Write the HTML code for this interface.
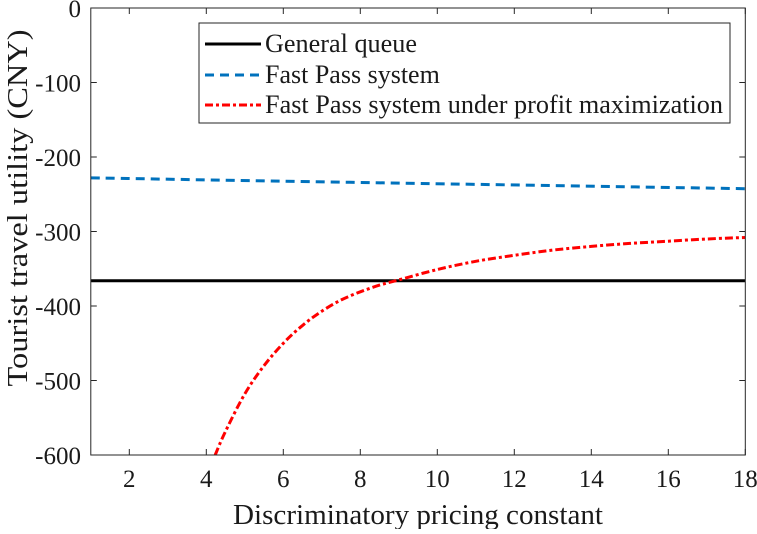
<!DOCTYPE html>
<html><head><meta charset="utf-8"><style>
body{margin:0;background:#fff;}
svg text{font-family:"Liberation Serif",serif;fill:#1a1a1a;}
</style></head><body>
<svg width="757" height="529" viewBox="0 0 757 529" xmlns="http://www.w3.org/2000/svg">
<g id="ticks"></g>
<g id="series"></g>
<rect x="90.8" y="8" width="654.5" height="447" fill="none" stroke="#262626" stroke-width="1"/>
<text x="418" y="524" font-size="28" text-anchor="middle" textLength="370" lengthAdjust="spacingAndGlyphs">Discriminatory pricing constant</text>
<text transform="translate(27,208) rotate(-90)" font-size="28" text-anchor="middle" textLength="357" lengthAdjust="spacingAndGlyphs">Tourist travel utility (CNY)</text>
<g>
<rect x="199" y="23" width="531" height="100" fill="#fff" stroke="#262626" stroke-width="1"/>
<line x1="205" y1="44" x2="261" y2="44" stroke="#000" stroke-width="3"/>
<text x="265" y="52" font-size="26" textLength="152" lengthAdjust="spacingAndGlyphs">General queue</text>
<line x1="205" y1="75" x2="261" y2="75" stroke="#0072BD" stroke-width="3" stroke-dasharray="9,6"/>
<text x="265" y="83" font-size="26">Fast Pass system</text>
<line x1="205" y1="105" x2="261" y2="105" stroke="#f00" stroke-width="3" stroke-dasharray="8,3,3,3"/>
<text x="265" y="113" font-size="26" textLength="458" lengthAdjust="spacingAndGlyphs">Fast Pass system under profit maximization</text>
</g>
</svg>
<script>
const xTicks=[2,4,6,8,10,12,14,16,18];
const yTicks=[0,-100,-200,-300,-400,-500,-600];
const generalX=[1,18];
const generalY=[-366,-366];
const fastX=[1,7.73,18];
const fastY=[-228,-234,-242.5];
const profitX=[4.23,4.5,5,5.5,6,6.5,7,7.5,8,8.5,9,10,11,12,13,14,15,16,17,18];
const profitY=[-600,-568,-518,-480,-450,-426,-407,-392,-381,-372,-365,-351,-340,-332,-325,-320,-316,-313,-310,-308];
const L=90.8,R=745.3,T=8,B=455;
const sx=v=>L+(v-1)/(18-1)*(R-L);
const sy=v=>T+(0-v)/600*(B-T);
const NS='http://www.w3.org/2000/svg';
const tg=document.getElementById('ticks'),sg=document.getElementById('series');
function mk(tag,attrs,parent){const e=document.createElementNS(NS,tag);for(const k in attrs)e.setAttribute(k,attrs[k]);parent.appendChild(e);return e;}
xTicks.forEach(v=>{
 const x=sx(v);
 const t1=mk('line',{x1:x,x2:x,y1:B,y2:B-6,stroke:'#262626'},tg);
 
 
 mk('line',{x1:x,x2:x,y1:T,y2:T+6,stroke:'#262626'},tg);
 const t=mk('text',{x:x,y:487,'font-size':25,'text-anchor':'middle'},tg);
 
 
 t.textContent=v;
});
yTicks.forEach(v=>{
 const y=sy(v);
 const t1=mk('line',{x1:L,x2:L+6,y1:y,y2:y,stroke:'#262626'},tg);
 
 
 mk('line',{x1:R,x2:R-6,y1:y,y2:y,stroke:'#262626'},tg);
 const t=mk('text',{x:81,y:y+9,'font-size':25,'text-anchor':'end'},tg);
 
 
 t.textContent=v;
});
function line(xs,ys,stroke,dash,name){
 const P=xs.map((x,i)=>[sx(x),sy(ys[i])]);
 let d='M'+P[0][0].toFixed(1)+','+P[0][1].toFixed(1);
 for(let i=0;i<P.length-1;i++){
  const p0=P[i-1]||P[i],p1=P[i],p2=P[i+1],p3=P[i+2]||P[i+1];
  const c1=[p1[0]+(p2[0]-p0[0])/6,p1[1]+(p2[1]-p0[1])/6];
  const c2=[p2[0]-(p3[0]-p1[0])/6,p2[1]-(p3[1]-p1[1])/6];
  d+=' C'+c1.map(v=>v.toFixed(1)).join(',')+' '+c2.map(v=>v.toFixed(1)).join(',')+' '+p2.map(v=>v.toFixed(1)).join(',');
 }
 const e=mk('path',{d:d,fill:'none',stroke:stroke,'stroke-width':3},sg);
 if(dash)e.setAttribute('stroke-dasharray',dash);
 
 
}
line(generalX,generalY,'#000',null,'general-queue-line');
line(fastX,fastY,'#0072BD','9,6','fast-pass-line');
line(profitX,profitY,'#f00','8,3,3,3','fast-pass-profit-line');
</script>
</body></html>
